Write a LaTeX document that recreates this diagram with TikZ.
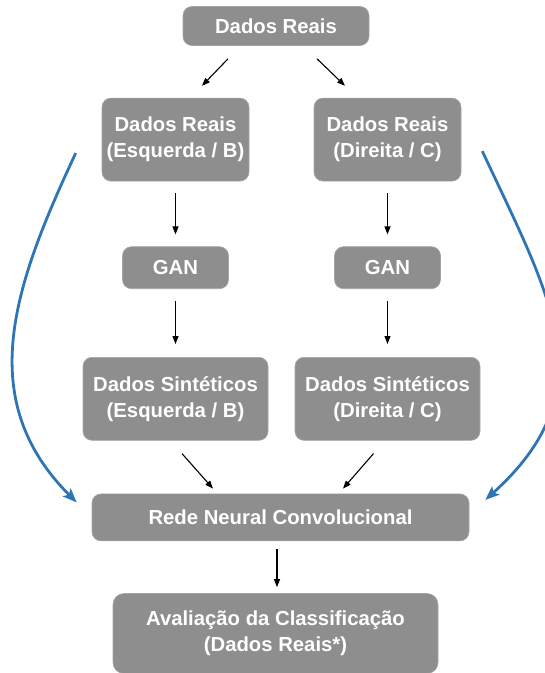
\documentclass[tikz,border=0pt]{standalone}
\usepackage{fontspec}
\setsansfont{Liberation Sans}
\usetikzlibrary{positioning, arrows.meta}

\definecolor{caixa}{RGB}{142,142,142}
\definecolor{azul}{RGB}{46,117,182}

\begin{document}
\begin{tikzpicture}[
  x=1pt, y=1pt,
  font=\sffamily\bfseries\fontsize{20.3}{26}\selectfont,
  etapa/.style={
    fill=caixa, text=white, rounded corners=9pt, align=center,
    draw=caixa!80!white, line width=0.6pt
  },
  seta/.style={-{Stealth[length=8pt,width=6pt,inset=0pt]}, line width=1.1pt, draw=black},
  curva/.style={-{Stealth[length=14pt,width=11pt,inset=3pt]}, line width=2.8pt, draw=azul},
]
\useasboundingbox (0,0) rectangle (545,-673);

\node[etapa, minimum width=186pt, minimum height=39pt] (reais) at (276,-26) {Dados Reais};

\node[etapa, minimum width=147pt, minimum height=83pt, below=52pt of reais, xshift=-100.5pt] (reaisEsq) {Dados Reais\\(Esquerda / B)};
\node[etapa, minimum width=147pt, minimum height=83pt, below=52pt of reais, xshift=111.5pt] (reaisDir) {Dados Reais\\(Direita / C)};

\node[etapa, minimum width=106pt, minimum height=42pt, below=65pt of reaisEsq] (ganEsq) {GAN};
\node[etapa, minimum width=106pt, minimum height=42pt, below=65pt of reaisDir] (ganDir) {GAN};

\node[etapa, minimum width=185pt, minimum height=83pt, below=68pt of ganEsq] (sintEsq) {Dados Sintéticos\\(Esquerda / B)};
\node[etapa, minimum width=185pt, minimum height=83pt, below=68pt of ganDir] (sintDir) {Dados Sintéticos\\(Direita / C)};

\node[etapa, minimum width=377pt, minimum height=47pt, below=53pt of sintEsq, xshift=105pt] (cnn) {Rede Neural Convolucional};

\node[etapa, minimum width=325pt, minimum height=80pt, below=52pt of cnn, xshift=-5pt, rounded corners=11pt] (aval) {Avaliação da Classificação\\(Dados Reais*)};

\draw[seta] ([xshift=-48pt,yshift=-13pt]reais.south) -- ([xshift=26.5pt,yshift=12pt]reaisEsq.north);
\draw[seta] ([xshift=41pt,yshift=-13pt]reais.south) -- ([xshift=-42.5pt,yshift=12pt]reaisDir.north);

\draw[seta, shorten <=12pt, shorten >=12pt] (reaisEsq) -- (ganEsq);
\draw[seta, shorten <=12pt, shorten >=12pt] (reaisDir) -- (ganDir);
\draw[seta, shorten <=12pt, shorten >=13pt] (ganEsq) -- (sintEsq);
\draw[seta, shorten <=12pt, shorten >=13pt] (ganDir) -- (sintDir);

\draw[seta] ([xshift=6.5pt,yshift=-13pt]sintEsq.south) -- ([xshift=-67.5pt,yshift=5pt]cnn.north);
\draw[seta] ([xshift=-14pt,yshift=-13pt]sintDir.south) -- ([xshift=62.5pt,yshift=5pt]cnn.north);

\draw[seta] ([xshift=-3.5pt,yshift=-8pt]cnn.south) -- ([xshift=1.5pt,yshift=6pt]aval.north);

\draw[curva] ([xshift=-26pt,yshift=-13.5pt]reaisEsq.west) to[out=245, in=135, looseness=1.07] ([xshift=-15pt,yshift=15pt]cnn.west);
\draw[curva] ([xshift=21pt,yshift=-11.5pt]reaisDir.east) to[out=-65, in=42, looseness=1.2] ([xshift=16pt,yshift=17.5pt]cnn.east);

\end{tikzpicture}
\end{document}
